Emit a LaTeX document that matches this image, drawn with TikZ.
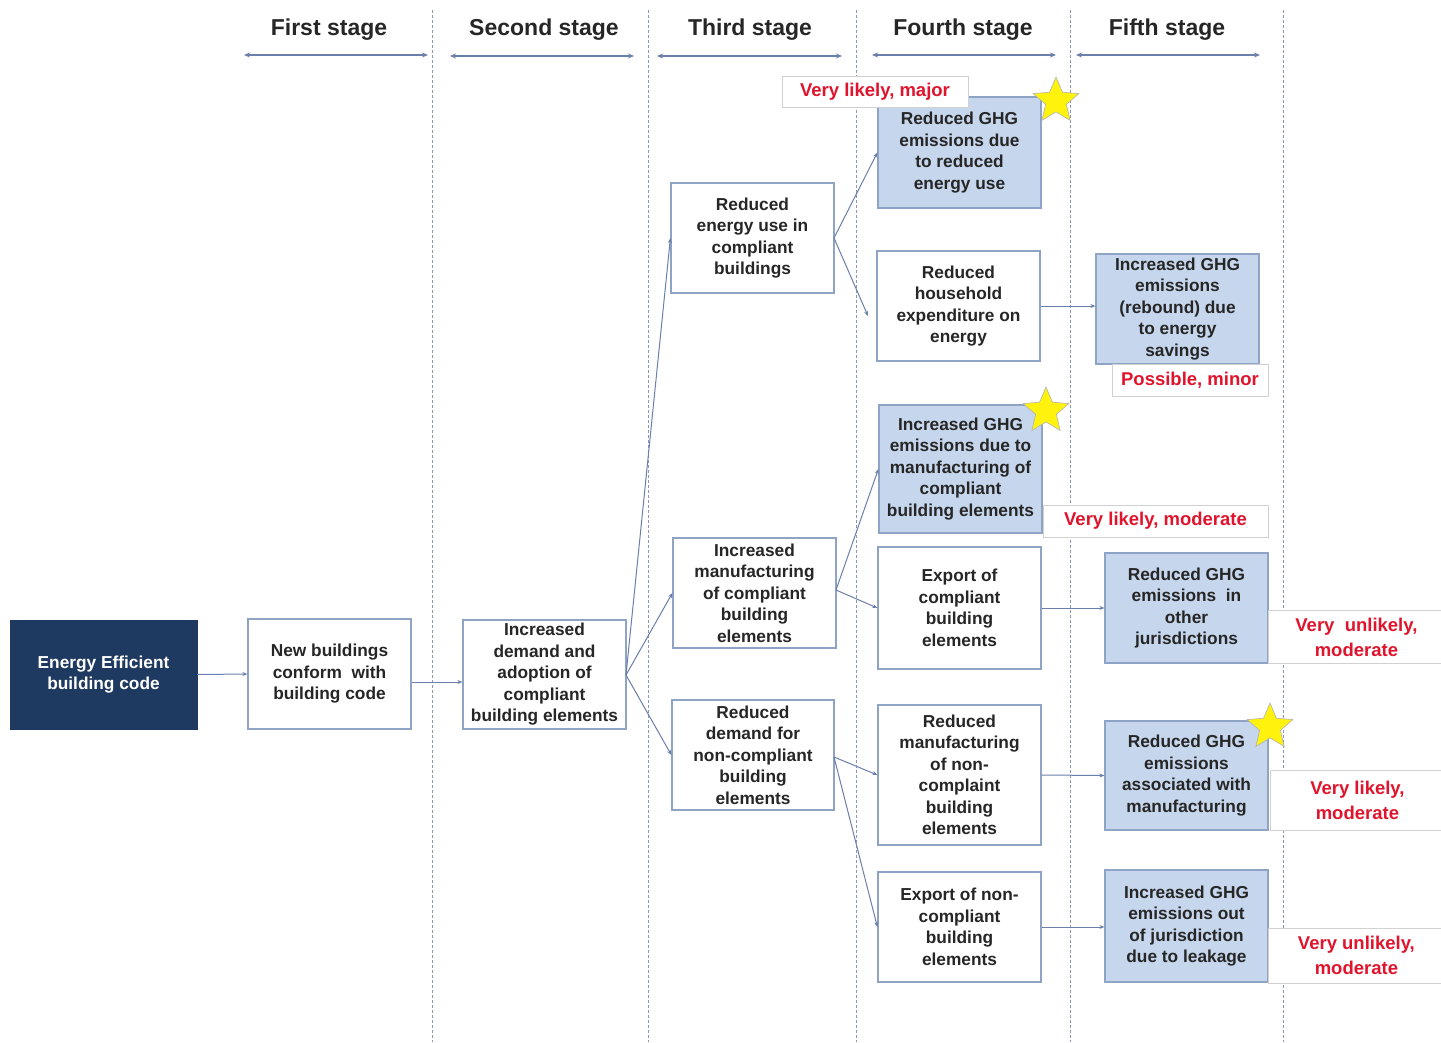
\documentclass[tikz,border=0pt]{standalone}
\usepackage{fontspec}
\setmainfont{Liberation Sans}
\usetikzlibrary{arrows.meta,shapes.geometric}
\definecolor{navy}{HTML}{1F3A60}
\definecolor{boxline}{HTML}{8FA3C4}
\definecolor{bluefill}{HTML}{C6D6EC}
\definecolor{arrowcol}{HTML}{6A7FAA}
\definecolor{divider}{HTML}{8A96B8}
\definecolor{redtxt}{HTML}{E0142C}
\definecolor{txt}{HTML}{262626}
\tikzset{
  every node/.style={font=\bfseries\fontsize{17.3}{21.5}\selectfont, text=txt, align=center, inner sep=2pt},
  plainbox/.style={draw=boxline, line width=1.2pt, fill=white},
  bluebox/.style={draw=boxline, line width=1.2pt, fill=bluefill},
  codebox/.style={draw=navy, fill=navy, text=white},
  ratebox/.style={draw=black!18, line width=0.8pt, fill=white, text=redtxt, font=\bfseries\fontsize{18.5}{25}\selectfont},
  conn/.style={draw=arrowcol, line width=1pt, -{Stealth[length=5pt,width=4pt]}},
  stagearrow/.style={draw=arrowcol, line width=1.8pt, {Stealth[length=6pt,width=5pt]}-{Stealth[length=6pt,width=5pt]}},
  divline/.style={draw=divider, line width=1pt, dash pattern=on 3pt off 2pt},
  stagehead/.style={font=\bfseries\fontsize{23}{26}\selectfont},
  starmark/.style={star, star points=5, star point ratio=2.2, minimum size=48pt, fill=yellow!95!white, draw=black!30, line width=0.6pt, inner sep=0pt},
}
\begin{document}
\begin{tikzpicture}[x=1pt,y=-1pt]
\useasboundingbox (0,0) rectangle (1441,1042);

% stage dividers
\foreach \xx in {432,648,856,1070,1283}
  \draw[divline] (\xx,10) -- (\xx,1042);

% stage headings with span arrows
\node[stagehead] (h1) at (329,30) {First stage};
\node[stagehead] (h2) at (544,30) {Second stage};
\node[stagehead] (h3) at (750,30) {Third stage};
\node[stagehead] (h4) at (963,30) {Fourth stage};
\node[stagehead] (h5) at (1167,30) {Fifth stage};
\coordinate (a1l) at (244,55); \coordinate (a1r) at (428,55);
\coordinate (a2l) at (450,56); \coordinate (a2r) at (634,56);
\coordinate (a3l) at (657,56); \coordinate (a3r) at (842,56);
\coordinate (a4l) at (872,55); \coordinate (a4r) at (1056,55);
\coordinate (a5l) at (1076,55); \coordinate (a5r) at (1260,55);
\draw[stagearrow] (a1l) -- (a1r);
\draw[stagearrow] (a2l) -- (a2r);
\draw[stagearrow] (a3l) -- (a3r);
\draw[stagearrow] (a4l) -- (a4r);
\draw[stagearrow] (a5l) -- (a5r);

% first and second stage
\node[codebox, minimum width=187, minimum height=109] (code) at (103.5,674.5) {Energy Efficient\\building code};
\node[plainbox, minimum width=163, minimum height=110] (newb) at (329.5,674) {New buildings\\conform~ with\\building code};
\node[plainbox, minimum width=163, minimum height=109] (demand) at (544.5,674.5) {Increased\\demand and\\adoption of\\compliant\\building elements};

% third stage
\node[plainbox, minimum width=163, minimum height=110] (energy) at (752.5,238) {Reduced\\energy use in\\compliant\\buildings};
\node[plainbox, minimum width=163, minimum height=110] (manuf) at (754.5,593) {Increased\\manufacturing\\of compliant\\building\\elements};
\node[plainbox, minimum width=162, minimum height=110] (nondem) at (753,755) {Reduced\\demand for\\non-compliant\\building\\elements};

% fourth stage
\node[bluebox, minimum width=163, minimum height=111] (ghgenergy) at (959.5,152.5) {Reduced GHG\\emissions due\\to reduced\\energy use};
\node[plainbox, minimum width=163, minimum height=110] (house) at (958.5,306) {Reduced\\household\\expenditure on\\energy};
\node[bluebox, minimum width=163, minimum height=128] (ghgmanuf) at (960.5,469) {Increased GHG\\emissions due to\\manufacturing of\\compliant\\building elements};
\node[plainbox, minimum width=163, minimum height=122] (export) at (959.5,608) {Export of\\compliant\\building\\elements};
\node[plainbox, minimum width=163, minimum height=140] (lessmanuf) at (959.5,775) {Reduced\\manufacturing\\of non-\\complaint\\building\\elements};
\node[plainbox, minimum width=163, minimum height=110] (nonexport) at (959.5,927) {Export of non-\\compliant\\building\\elements};

% fifth stage
\node[bluebox, minimum width=163, minimum height=110] (rebound) at (1177.5,309) {Increased GHG\\emissions\\(rebound) due\\to energy\\savings};
\node[bluebox, minimum width=163, minimum height=110] (otherjur) at (1186.5,608) {Reduced GHG\\emissions~ in\\other\\jurisdictions};
\node[bluebox, minimum width=163, minimum height=109] (assoc) at (1186.5,775.5) {Reduced GHG\\emissions\\associated with\\manufacturing};
\node[bluebox, minimum width=163, minimum height=112] (leak) at (1186.5,926) {Increased GHG\\emissions out\\of jurisdiction\\due to leakage};

% likelihood ratings
\node[ratebox, minimum width=186, minimum height=31] (r1) at (875,91.5) {Very likely, major};
\node[ratebox, minimum width=156, minimum height=32] (r2) at (1190,380) {Possible, minor};
\node[ratebox, minimum width=225, minimum height=32] (r3) at (1155.5,521) {Very likely, moderate};
\node[ratebox, minimum width=176, minimum height=53, anchor=west] (r4) at (1268,637) {Very~ unlikely,\\moderate};
\node[ratebox, minimum width=174, minimum height=60, anchor=west] (r5) at (1270,800) {Very likely,\\moderate};
\node[ratebox, minimum width=176, minimum height=55, anchor=west] (r6) at (1268,955.5) {Very unlikely,\\moderate};

% connectors
\coordinate (fan) at (626,675);
\draw[conn] (code.east) -- (newb.west);
\draw[conn] (newb.east |- 0,682) -- (demand.west |- 0,682);
\draw[conn] (fan) -- (energy.west);
\draw[conn] (fan) -- (manuf.west);
\draw[conn] (fan) -- (nondem.west);
\coordinate (e1) at (834,238);
\coordinate (h2end) at (868,316);
\draw[conn] (e1) -- (ghgenergy.west);
\draw[conn] (e1) -- (h2end);
\draw[conn] (house.east) -- (rebound.west |- house.east);
\coordinate (m1) at (836,590);
\draw[conn] (m1) -- (ghgmanuf.west);
\draw[conn] (m1) -- (export.west);
\coordinate (n1) at (834,757);
\draw[conn] (n1) -- (lessmanuf.west);
\draw[conn] (n1) -- (nonexport.west);
\draw[conn] (export.east) -- (otherjur.west);
\draw[conn] (lessmanuf.east) -- (assoc.west);
\draw[conn] (nonexport.east) -- (leak.west |- nonexport.east);

% highlight stars
\node[starmark] (s1) at (1056,101) {};
\node[starmark] (s2) at (1046,411) {};
\node[starmark] (s3) at (1270,727) {};
\end{tikzpicture}
\end{document}
